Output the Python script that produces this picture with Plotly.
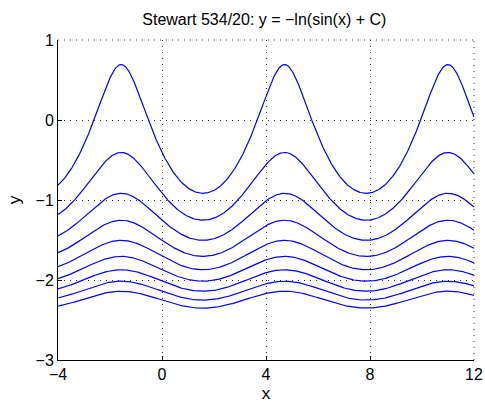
import numpy as np
import plotly.graph_objects as go

# Constants C of the family y = -ln(sin(x) + C), read from peaks/troughs
C_values = [1.5, 2.5, 3.5, 4.5, 5.5, 6.5, 7.5, 8.5, 9.5]
x_range = [-4, 12]
y_range = [-3, 1]
x_ticks = [-4, 0, 4, 8, 12]
y_ticks = [-3, -2, -1, 0, 1]
title = "Stewart 534/20: y = \u2212ln(sin(x) + C)"

x = np.linspace(x_range[0], x_range[1], 800)

fig = go.Figure()
for C in C_values:
    fig.add_trace(go.Scatter(x=x, y=-np.log(np.sin(x) + C), mode="lines",
                             line=dict(color="#0000ff", width=1.2),
                             showlegend=False, hoverinfo="skip"))

font = dict(family="Liberation Sans, Arial, sans-serif", size=16, color="black")
minus = "\u2212"
def lab(v):
    return (minus + str(-v)) if v < 0 else str(v)

grid = dict(showgrid=True, gridcolor="#333333", griddash="1px,5px", gridwidth=1)

fig.update_layout(
    width=485, height=409,
    margin=dict(l=58, r=11, t=40, b=49),
    paper_bgcolor="white", plot_bgcolor="white",
    font=font,
    title=dict(text=title, x=0.545, xanchor="center", y=0.953, yanchor="middle",
               font=dict(size=16)),
    xaxis=dict(range=x_range, tickvals=x_ticks, ticktext=[lab(v) for v in x_ticks],
               **grid, automargin=False,
               showline=True, linecolor="black", linewidth=1,
               ticks="inside", ticklen=4, tickcolor="black",
               zeroline=False, title=dict(text="x", standoff=4, font=dict(size=17))),
    yaxis=dict(range=y_range, tickvals=y_ticks, ticktext=[lab(v) for v in y_ticks],
               **grid, automargin=False,
               showline=True, linecolor="black", linewidth=1,
               ticks="inside", ticklen=4, tickcolor="black",
               zeroline=False, title=dict(text="y", standoff=10, font=dict(size=17))),
)
# dotted top and right box edges
fig.add_shape(type="line", xref="paper", yref="paper", x0=0, x1=1, y0=1, y1=1,
              line=dict(color="#333333", width=1, dash="1px,5px"))
fig.add_shape(type="line", xref="paper", yref="paper", x0=1, x1=1, y0=0, y1=1,
              line=dict(color="#333333", width=1, dash="1px,5px"))

fig.write_html("out.html", config={"displayModeBar": False},
               post_script="document.body.style.margin='0';document.body.style.overflow='hidden';")
